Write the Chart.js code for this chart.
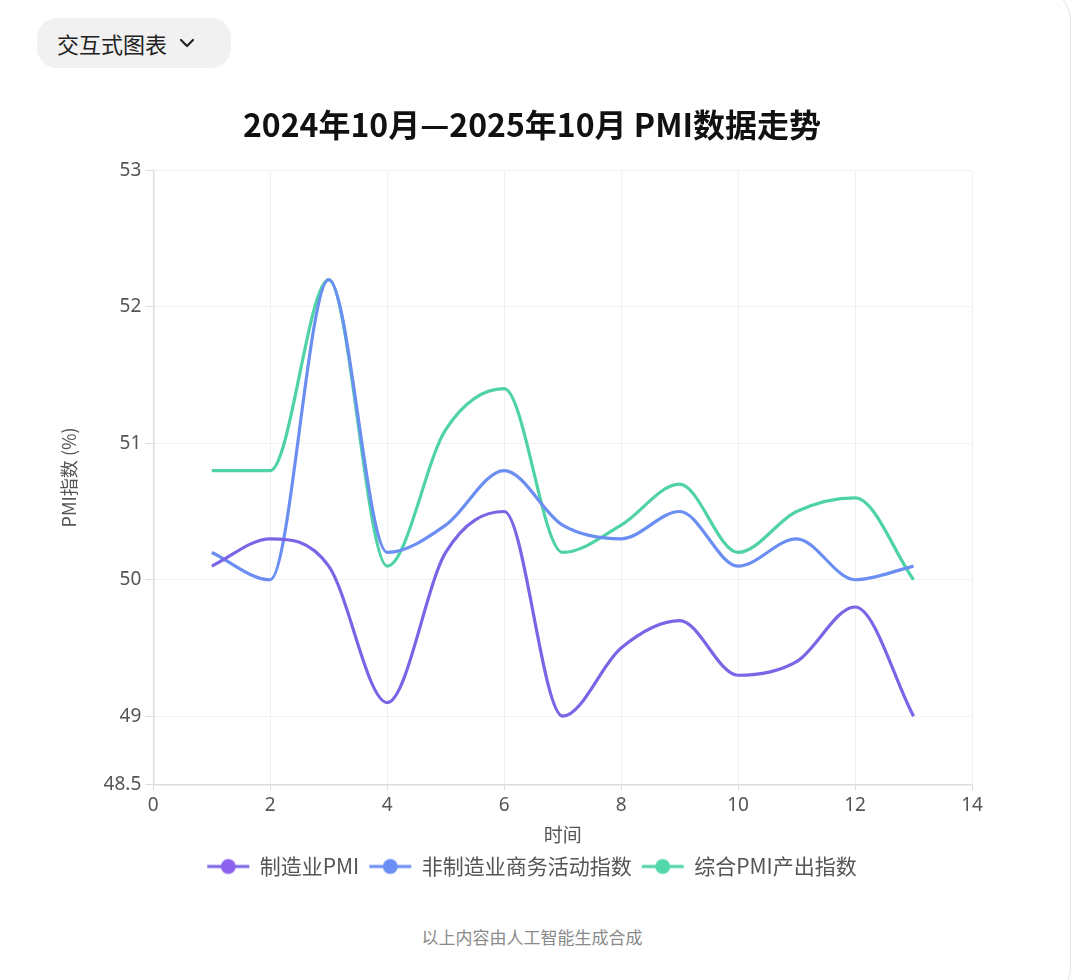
<!DOCTYPE html>
<html lang="zh-CN">
<head>
    <meta charset="UTF-8">
    <title>PMI数据走势</title>
    <style>
        html, body {
            margin: 0;
            padding: 0;
            background: #ffffff;
            width: 1080px;
            height: 980px;
            overflow: hidden;
            font-family: "Noto Sans CJK SC", "Noto Sans", sans-serif;
        }

        .card {
            position: absolute;
            left: -20px;
            top: -12px;
            width: 1089px;
            height: 1010px;
            border: 1px solid #e4e4e4;
            border-radius: 32px;
            background: #fff;
        }

        .toggle {
            position: absolute;
            left: 37px;
            top: 18px;
            width: 194px;
            height: 50px;
            background: #f1f1f1;
            border-radius: 20px;
            font-size: 22px;
            color: #222;
            display: flex;
            align-items: center;
            padding-left: 20px;
            box-sizing: border-box;
        }

        .toggle svg {
            margin-left: 12px;
        }

        .chart-box {
            position: absolute;
            left: 40px;
            top: 95px;
            width: 984px;
            height: 792px;
        }

        .footer {
            position: absolute;
            left: 0;
            width: 1064px;
            top: 924px;
            text-align: center;
            font-size: 17px;
            color: #8a8a8a;
        }
    </style>
</head>
<body>
    <div class="card"></div>
    <div class="toggle">交互式图表
        <svg width="16" height="10" viewBox="0 0 16 10"><path d="M2 2 L8 8 L14 2" fill="none" stroke="#222" stroke-width="2.2" stroke-linecap="round" stroke-linejoin="round"/></svg>
    </div>
    <div class="chart-box">
        <canvas id="pmi-chart"></canvas>
    </div>
    <div class="footer">以上内容由人工智能生成合成</div>

    <script src="https://cdn.jsdelivr.net/npm/chart.js"></script>
    <script>
        // months 1..13 = 2024年10月 .. 2025年10月
        const months = [1, 2, 3, 4, 5, 6, 7, 8, 9, 10, 11, 12, 13];
        const manufacturing = [50.1, 50.3, 50.1, 49.1, 50.2, 50.5, 49.0, 49.5, 49.7, 49.3, 49.4, 49.8, 49.0];
        const nonManufacturing = [50.2, 50.0, 52.2, 50.2, 50.4, 50.8, 50.4, 50.3, 50.5, 50.1, 50.3, 50.0, 50.1];
        const composite = [50.8, 50.8, 52.2, 50.1, 51.1, 51.4, 50.2, 50.4, 50.7, 50.2, 50.5, 50.6, 50.0];

        const seriesNames = ['制造业PMI', '非制造业商务活动指数', '综合PMI产出指数'];
        const seriesColors = ['#7b64e6', '#6b8ef2', '#4fd3a6'];
        const legendDots = ['#8b62f0', '#6b8ef5', '#52d8aa'];

        function toPoints(values) {
            return months.map((m, i) => ({ x: m, y: values[i] }));
        }

        // legend marker: short line with a dot in the middle
        function makeMarker(lineColor, dotColor) {
            const c = document.createElement('canvas');
            c.width = 44;
            c.height = 18;
            const g = c.getContext('2d');
            g.strokeStyle = lineColor;
            g.lineWidth = 3;
            g.beginPath();
            g.moveTo(1, 9);
            g.lineTo(43, 9);
            g.stroke();
            g.fillStyle = dotColor;
            g.beginPath();
            g.arc(22, 9, 7.5, 0, Math.PI * 2);
            g.fill();
            return c;
        }

        const markers = seriesColors.map((col, i) => makeMarker(col, legendDots[i]));

        const allSeries = [manufacturing, nonManufacturing, composite];
        const ctx = document.getElementById('pmi-chart').getContext('2d');

        new Chart(ctx, {
            type: 'line',
            data: {
                datasets: allSeries.map((vals, i) => ({
                    label: seriesNames[i],
                    data: toPoints(vals),
                    borderColor: seriesColors[i],
                    backgroundColor: seriesColors[i],
                    borderWidth: 3.2,
                    pointRadius: 0,
                    cubicInterpolationMode: 'monotone',
                    fill: false
                }))
            },
            options: {
                responsive: true,
                maintainAspectRatio: false,
                animation: false,
                layout: {
                    padding: { left: 10, right: 10, top: 0, bottom: 0 }
                },
                plugins: {
                    title: {
                        display: true,
                        text: '2024年10月—2025年10月 PMI数据走势',
                        color: '#111',
                        font: { size: 32, weight: 'bold', family: '"Noto Sans CJK SC", sans-serif' },
                        padding: { top: 11, bottom: 26 }
                    },
                    legend: {
                        position: 'bottom',
                        labels: {
                            usePointStyle: true,
                            pointStyleWidth: 42,
                            color: '#555',
                            font: { size: 21, family: '"Noto Sans CJK SC", sans-serif' },
                            padding: 10,
                            generateLabels: chart => chart.data.datasets.map((ds, i) => ({
                                text: ds.label,
                                pointStyle: markers[i],
                                fillStyle: ds.borderColor,
                                strokeStyle: ds.borderColor,
                                lineWidth: 0,
                                hidden: false,
                                datasetIndex: i,
                                fontColor: '#555'
                            }))
                        }
                    },
                    tooltip: { enabled: false }
                },
                scales: {
                    x: {
                        type: 'linear',
                        min: 0,
                        max: 14,
                        ticks: {
                            stepSize: 2,
                            color: '#555',
                            font: { size: 19, family: '"Noto Sans", sans-serif' },
                            padding: 4
                        },
                        grid: {
                            color: '#f1f1f1',
                            tickColor: '#dddddd',
                            tickLength: 6
                        },
                        border: { color: '#dddddd', width: 1.5 },
                        title: {
                            display: true,
                            text: '时间',
                            color: '#555',
                            font: { size: 19, family: '"Noto Sans CJK SC", sans-serif' },
                            padding: { top: 2, bottom: 0 }
                        }
                    },
                    y: {
                        min: 48.5,
                        max: 53,
                        ticks: {
                            stepSize: 1,
                            color: '#555',
                            font: { size: 19, family: '"Noto Sans", sans-serif' },
                            padding: 4
                        },
                        grid: {
                            color: '#f1f1f1',
                            tickColor: '#dddddd',
                            tickLength: 8
                        },
                        border: { color: '#dddddd', width: 1.5 },
                        title: {
                            display: true,
                            text: 'PMI指数 (%)',
                            color: '#555',
                            font: { size: 18, family: '"Noto Sans CJK SC", sans-serif' },
                            padding: { top: 8, bottom: 20 }
                        }
                    },
                    // empty right-hand axis: only reserves room so the plot ends where the original does
                    spacer: {
                        type: 'linear',
                        position: 'right',
                        display: true,
                        ticks: { display: false },
                        grid: { display: false },
                        border: { display: false },
                        afterFit: scale => { scale.width = 42; }
                    }
                }
            }
        });
    </script>
</body>
</html>
